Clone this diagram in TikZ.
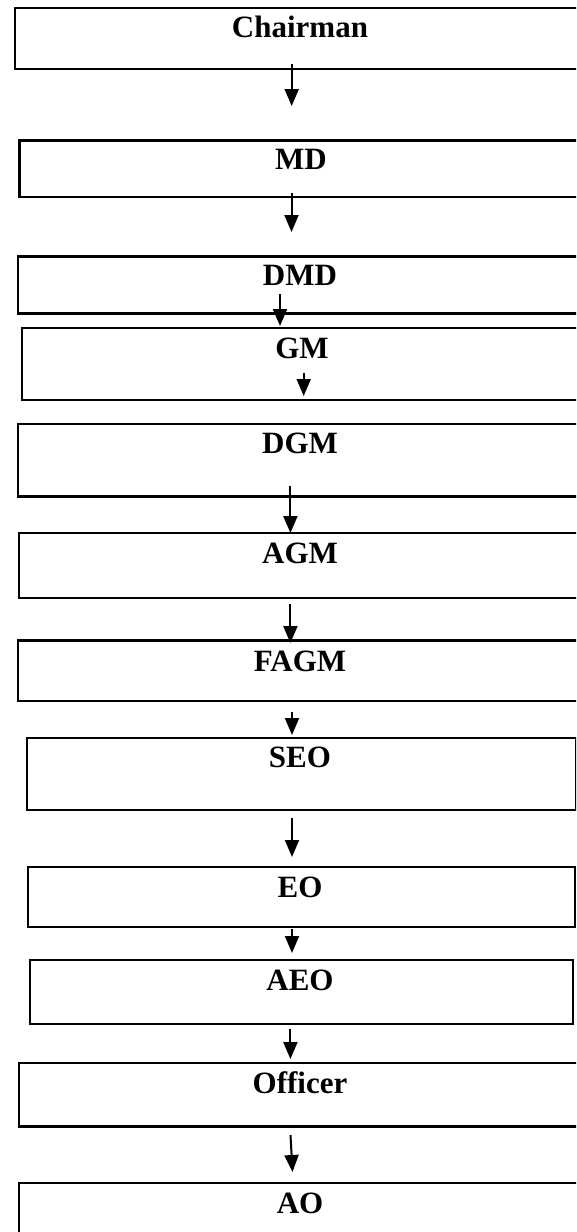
\documentclass[tikz,border=0pt]{standalone}
\usepackage{fontspec}
\setmainfont{Liberation Serif}
\usetikzlibrary{arrows.meta}
\begin{document}
\begin{tikzpicture}[x=1pt,y=-1pt,
  box/.style={draw, line width=2.2pt, inner sep=0pt, anchor=north west},
  lbl/.style={font=\fontsize{31}{36}\selectfont\bfseries, anchor=base, inner sep=0pt},
  arr/.style={line width=2pt, -{Triangle[length=17pt,width=14pt]}}]
\useasboundingbox (0,0) rectangle (576,1232);
\clip (0,0) rectangle (576,1232);
% boxes
\node[box, minimum width=576.4pt, minimum height=61.3pt] (chair) at (13.6,6.7) {};
\node[box, minimum width=571.6pt, minimum height=56.7pt] (md) at (18.4,139.3) {};
\node[box, minimum width=573.5pt, minimum height=57pt] (dmd) at (16.5,255.3) {};
\node[box, minimum width=569pt, minimum height=72.3pt] (gm) at (21,326.7) {};
\node[box, minimum width=573.5pt, minimum height=72.6pt] (dgm) at (16.5,422.7) {};
\node[box, minimum width=572.4pt, minimum height=65pt] (agm) at (17.6,531.7) {};
\node[box, minimum width=573.5pt, minimum height=60.7pt] (fagm) at (16.5,639.3) {};
\node[box, minimum width=548.9pt, minimum height=72pt] (seo) at (25.7,736.7) {};
\node[box, minimum width=546.7pt, minimum height=60.3pt] (eo) at (26.8,865.7) {};
\node[box, minimum width=543pt, minimum height=64.3pt] (aeo) at (28.7,958.7) {};
\node[box, minimum width=572.4pt, minimum height=63.6pt] (off) at (17.6,1061.7) {};
\node[box, minimum width=572.4pt, minimum height=70pt] (ao) at (17.6,1182) {};
% labels
\node[lbl] (tchair) at (300,37.5) {Chairman};
\node[lbl] (tmd) at (301,169) {MD};
\node[lbl] (tdmd) at (300,285) {DMD};
\node[lbl] (tgm) at (302,358) {GM};
\node[lbl] (tdgm) at (300,453) {DGM};
\node[lbl] (tagm) at (300,563) {AGM};
\node[lbl] (tfagm) at (300,671) {FAGM};
\node[lbl] (tseo) at (300,767) {SEO};
\node[lbl] (teo) at (300,897) {EO};
\node[lbl] (taeo) at (300,990) {AEO};
\node[lbl] (toff) at (300,1093) {Officer};
\node[lbl] (tao) at (300,1213) {AO};
% arrow end points
\coordinate (a1s) at (291.7,64);   \coordinate (a1e) at (291.7,106);
\coordinate (a2s) at (291.5,193);  \coordinate (a2e) at (291.5,232);
\coordinate (a3s) at (280,294);    \coordinate (a3e) at (280,326);
\coordinate (a4s) at (303.7,373);  \coordinate (a4e) at (303.7,396);
\coordinate (a5s) at (290.4,486);  \coordinate (a5e) at (290.4,533);
\coordinate (a6s) at (290.4,604);  \coordinate (a6e) at (290.4,643);
\coordinate (a7s) at (292,712);    \coordinate (a7e) at (292,735);
\coordinate (a8s) at (292,818);    \coordinate (a8e) at (292,857);
\coordinate (a9s) at (292,929);    \coordinate (a9e) at (292,953);
\coordinate (a10s) at (290.4,1029); \coordinate (a10e) at (290.4,1059);
\coordinate (a11s) at (290.5,1135); \coordinate (a11e) at (292.5,1172);
% arrows
\draw[arr] (a1s) -- (a1e);
\draw[arr] (a2s) -- (a2e);
\draw[arr] (a3s) -- (a3e);
\draw[arr] (a4s) -- (a4e);
\draw[arr] (a5s) -- (a5e);
\draw[arr] (a6s) -- (a6e);
\draw[arr] (a7s) -- (a7e);
\draw[arr] (a8s) -- (a8e);
\draw[arr] (a9s) -- (a9e);
\draw[arr] (a10s) -- (a10e);
\draw[arr] (a11s) -- (a11e);
\end{tikzpicture}
\end{document}
